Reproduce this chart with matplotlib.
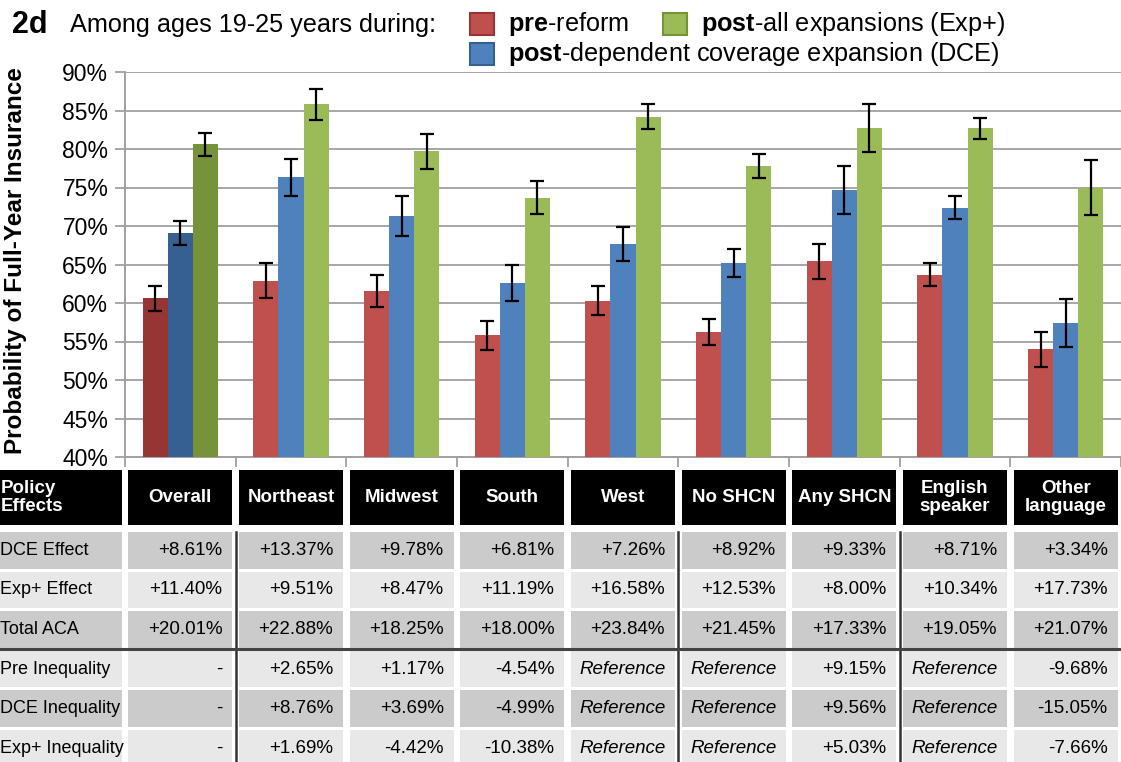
import matplotlib.pyplot as plt
import numpy as np
from matplotlib.patches import Rectangle

plt.rcParams['font.family'] = ['Liberation Sans', 'DejaVu Sans']
plt.rcParams['mathtext.fontset'] = 'custom'
plt.rcParams['mathtext.rm'] = 'Liberation Sans'
plt.rcParams['mathtext.bf'] = 'Liberation Sans:bold'

# groups and probability of full-year insurance (%)
categories = ['Overall', 'Northeast', 'Midwest', 'South', 'West',
              'No SHCN', 'Any SHCN', 'English\nspeaker', 'Other\nlanguage']
pre = [60.6, 62.9, 61.6, 55.8, 60.3, 56.2, 65.4, 63.7, 54.0]
pre_err = [1.6, 2.25, 2.1, 1.9, 1.9, 1.7, 2.3, 1.5, 2.25]
dce = [69.1, 76.3, 71.3, 62.6, 67.7, 65.2, 74.7, 72.4, 57.4]
dce_err = [1.6, 2.35, 2.65, 2.4, 2.2, 1.8, 3.15, 1.55, 3.1]
exp = [80.6, 85.8, 79.7, 73.7, 84.2, 77.8, 82.7, 82.7, 75.0]
exp_err = [1.45, 2.0, 2.3, 2.15, 1.65, 1.6, 3.1, 1.35, 3.6]

# table below the chart
row_labels = ['DCE Effect', 'Exp+ Effect', 'Total ACA',
              'Pre Inequality', 'DCE Inequality', 'Exp+ Inequality']
dce_effect = ['+8.61%', '+13.37%', '+9.78%', '+6.81%', '+7.26%', '+8.92%', '+9.33%', '+8.71%', '+3.34%']
exp_effect = ['+11.40%', '+9.51%', '+8.47%', '+11.19%', '+16.58%', '+12.53%', '+8.00%', '+10.34%', '+17.73%']
total_aca = ['+20.01%', '+22.88%', '+18.25%', '+18.00%', '+23.84%', '+21.45%', '+17.33%', '+19.05%', '+21.07%']
pre_ineq = ['-', '+2.65%', '+1.17%', '-4.54%', 'Reference', 'Reference', '+9.15%', 'Reference', '-9.68%']
dce_ineq = ['-', '+8.76%', '+3.69%', '-4.99%', 'Reference', 'Reference', '+9.56%', 'Reference', '-15.05%']
exp_ineq = ['-', '+1.69%', '-4.42%', '-10.38%', 'Reference', 'Reference', '+5.03%', 'Reference', '-7.66%']
table_rows = [dce_effect, exp_effect, total_aca, pre_ineq, dce_ineq, exp_ineq]

# colours: first group drawn darker
red, blue, green = '#C0504D', '#4F81BD', '#9BBB59'
red_d, blue_d, green_d = '#963634', '#366092', '#76933C'

W, H = 1121, 762
fig = plt.figure(figsize=(W / 100, H / 100), dpi=100)

# ---- bar chart ----
left_px = 125
ax = fig.add_axes([left_px / W, (H - 457) / H, 1 - left_px / W, (457 - 72) / H])
n = len(categories)
x = np.arange(n) + 0.5
bw = 0.226
series = [(pre, pre_err, red, red_d), (dce, dce_err, blue, blue_d), (exp, exp_err, green, green_d)]
for k, (vals, errs, c, cd) in enumerate(series):
    cols = [cd] + [c] * (n - 1)
    ax.bar(x + (k - 1) * bw, np.array(vals) - 40, bw, bottom=40, color=cols, zorder=3)
    ax.errorbar(x + (k - 1) * bw, vals, yerr=errs, fmt='none', ecolor='black',
                elinewidth=1.6, capsize=5, capthick=1.6, zorder=4)

ax.set_xlim(0, n)
ax.set_ylim(40, 90)
ax.set_yticks(np.arange(40, 91, 5))
ax.set_yticklabels(['{}%'.format(v) for v in range(40, 91, 5)], fontsize=16.5)
ax.set_xticks(np.arange(0, n + 1))
ax.set_xticklabels([])
ax.tick_params(axis='x', direction='out', length=7, width=1.3, color='#A0A0A0')
ax.tick_params(axis='y', direction='out', length=7, width=1.3, color='#A0A0A0', pad=5)
ax.grid(axis='y', color='#A6A6A6', linewidth=1.4, zorder=0)
for s in ['top', 'right']:
    ax.spines[s].set_visible(False)
for s in ['left', 'bottom']:
    ax.spines[s].set_color('#A0A0A0')
    ax.spines[s].set_linewidth(1.4)
ax.set_ylabel('Probability of Full-Year Insurance', fontsize=17.5, fontweight='bold')
ax.yaxis.set_label_coords((27 - left_px) / (W - left_px), 0.51)

# ---- title and legend ----
fig.text(12 / W, 1 - 25 / H, '2d', fontsize=22, fontweight='bold', va='center')
fig.text(70 / W, 1 - 25 / H, 'Among ages 19-25 years during:', fontsize=18.2, va='center')
legend_items = [(470, 13, red, red_d, r'$\mathbf{pre}$-reform'),
                (663, 13, green, green_d, r'$\mathbf{post}$-all expansions (Exp+)'),
                (470, 43, blue, blue_d, r'$\mathbf{post}$-dependent coverage expansion (DCE)')]
for lx, ly, c, cd, label in legend_items:
    fig.patches.append(Rectangle((lx / W, 1 - (ly + 22) / H), 24 / W, 22 / H,
                                 facecolor=c, edgecolor=cd, linewidth=1.5,
                                 transform=fig.transFigure, figure=fig))
    fig.text((lx + 38) / W, 1 - (ly + 11) / H, label, fontsize=18.2, va='center')

# ---- table ----
tax = fig.add_axes([0, 0, 1, (H - 470) / H])
col0 = left_px / ((W - left_px) / n)
tax.set_xlim(-col0, n)
tax.set_ylim(H - 470, 0)
tax.axis('off')
gap_x = 0.03
hdr_h = 55
row_top = 62
pitch = 39.6
cell_h = 36.5
dark_gray, light_gray = '#CBCBCB', '#E8E8E8'

# header
edges = [-col0 - 0.1] + list(range(n + 1))
for j in range(n + 1):
    x0 = edges[j] + (gap_x if j > 0 else 0)
    x1 = edges[j + 1] - gap_x
    tax.add_patch(Rectangle((x0, 0), x1 - x0, hdr_h, facecolor='black', edgecolor='none'))
tax.text(-col0 + 0.005, hdr_h / 2, 'Policy\nEffects', color='white', fontsize=13.5,
         fontweight='bold', ha='left', va='center', linespacing=1.05)
for j, cat in enumerate(categories):
    tax.text(j + 0.5, hdr_h / 2, cat, color='white', fontsize=13.5, fontweight='bold',
             ha='center', va='center', linespacing=1.05)

# body rows
for i, (lab, vals) in enumerate(zip(row_labels, table_rows)):
    y0 = row_top + i * pitch
    fc = dark_gray if i % 2 == 0 else light_gray
    for j in range(n + 1):
        x0 = edges[j] + (gap_x if j > 0 else 0)
        x1 = edges[j + 1] - gap_x
        tax.add_patch(Rectangle((x0, y0), x1 - x0, cell_h, facecolor=fc, edgecolor='none'))
    tax.text(-col0, y0 + cell_h / 2, lab, fontsize=13, ha='left', va='center')
    for j, v in enumerate(vals):
        if v == 'Reference':
            tax.text(j + 0.5, y0 + cell_h / 2, v, fontsize=13.5, style='italic',
                     ha='center', va='center')
        else:
            tax.text(j + 0.88, y0 + cell_h / 2, v, fontsize=13.5, ha='right', va='center')

# group separators
for xs in [1, 5, 7]:
    tax.plot([xs, xs], [row_top, H - 470], color='#333333', linewidth=1.8)
tax.plot([-col0, n], [row_top + 3 * pitch - 1.5, row_top + 3 * pitch - 1.5],
         color='#444444', linewidth=2.2)

plt.savefig('out.png', dpi=100)
